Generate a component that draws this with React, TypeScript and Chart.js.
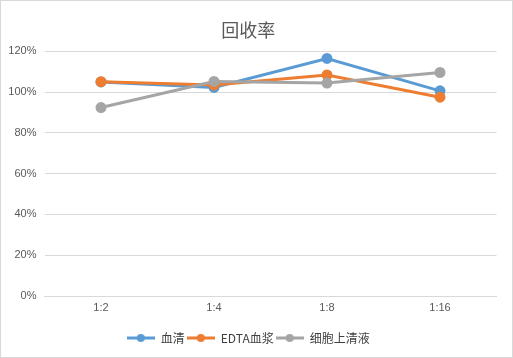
import React, { useEffect, useRef } from "react";
import { Chart, registerables } from "chart.js";

Chart.register(...registerables);

const categories = ["1:2", "1:4", "1:8", "1:16"];
const serumValues = [1.05, 1.023, 1.165, 1.006];
const edtaValues = [1.051, 1.035, 1.084, 0.975];
const supernatantValues = [0.924, 1.052, 1.044, 1.096];
const seriesNames = ["血清", "EDTA血浆", "细胞上清液"];
const seriesColors = ["#5B9BD5", "#ED7D31", "#A5A5A5"];
const yTicks = [0, 0.2, 0.4, 0.6, 0.8, 1.0, 1.2];

function makeLegendIcon(color: string): HTMLCanvasElement {
  const c = document.createElement("canvas");
  c.width = 28;
  c.height = 10;
  const ctx = c.getContext("2d")!;
  ctx.strokeStyle = color;
  ctx.lineWidth = 3;
  ctx.beginPath();
  ctx.moveTo(0, 5);
  ctx.lineTo(28, 5);
  ctx.stroke();
  ctx.fillStyle = color;
  ctx.beginPath();
  ctx.arc(14, 5, 4, 0, Math.PI * 2);
  ctx.fill();
  return c;
}

export default function App() {
  const ref = useRef<HTMLCanvasElement | null>(null);
  useEffect(() => {
    if (!ref.current) return;
    const data = [serumValues, edtaValues, supernatantValues];
    const icons = seriesColors.map(makeLegendIcon);
    const borderPlugin = {
      id: "outerBorder",
      beforeDraw(chart: any) {
        const ctx = chart.ctx;
        ctx.save();
        ctx.fillStyle = "#ffffff";
        ctx.fillRect(0, 0, chart.width, chart.height);
        ctx.strokeStyle = "#d9d9d9";
        ctx.lineWidth = 1;
        ctx.strokeRect(0.5, 0.5, chart.width - 1, chart.height - 1);
        ctx.restore();
      },
    };
    const chart = new Chart(ref.current, {
      type: "line",
      data: {
        labels: categories,
        datasets: data.map((d, i) => ({
          label: seriesNames[i],
          data: d,
          order: data.length - i,
          borderColor: seriesColors[i],
          backgroundColor: seriesColors[i],
          borderWidth: 3,
          pointRadius: 4,
          pointBackgroundColor: seriesColors[i],
          pointBorderColor: seriesColors[i],
          tension: 0,
        })),
      },
      options: {
        responsive: false,
        animation: false,
        layout: { padding: { left: 0, right: 16.5, top: 0, bottom: 4 } },
        plugins: {
          title: {
            display: true,
            text: "回收率",
            color: "#595959",
            font: { family: "'Noto Sans CJK SC', sans-serif", size: 18, weight: "normal" },
            padding: { top: 19, bottom: 10.7 },
          },
          legend: {
            position: "bottom",
            labels: {
              usePointStyle: true,
              pointStyleWidth: 28,
              padding: 2,
              color: "#404040",
              font: { family: "'Noto Sans CJK SC', sans-serif", size: 12 },
              generateLabels: (ch: any) =>
                ch.data.datasets.map((ds: any, i: number) => ({
                  text: ds.label,
                  fillStyle: seriesColors[i],
                  strokeStyle: seriesColors[i],
                  lineWidth: 0,
                  pointStyle: icons[i],
                  datasetIndex: i,
                  hidden: false,
                  fontColor: "#404040",
                })),
            },
          },
          tooltip: { enabled: false },
        },
        scales: {
          x: {
            offset: true,
            grid: { display: false, drawTicks: false },
            border: { display: true, color: "#d9d9d9", width: 1 },
            ticks: {
              color: "#595959",
              font: { family: "'Liberation Sans', sans-serif", size: 11 },
              padding: 5,
            },
            afterFit: (s: any) => {
              s.height = 34;
            },
          },
          y: {
            min: 0,
            max: 1.2,
            afterBuildTicks: (s: any) => {
              s.ticks = yTicks.map((v) => ({ value: v }));
            },
            grid: { color: "#d9d9d9", drawTicks: false },
            border: { display: false },
            ticks: {
              color: "#595959",
              font: { family: "'Liberation Sans', sans-serif", size: 11 },
              padding: 8,
              callback: (v: any) => Math.round(Number(v) * 100) + "%",
            },
            afterFit: (s: any) => {
              s.width = 44.5;
            },
          },
        },
      },
      plugins: [borderPlugin],
    } as any);
    return () => chart.destroy();
  }, []);
  return (
    <div style={{ position: "absolute", left: 0, top: 0, width: 513, height: 358 }}>
      <canvas ref={ref} width={513} height={358} style={{ display: "block" }} />
    </div>
  );
}
